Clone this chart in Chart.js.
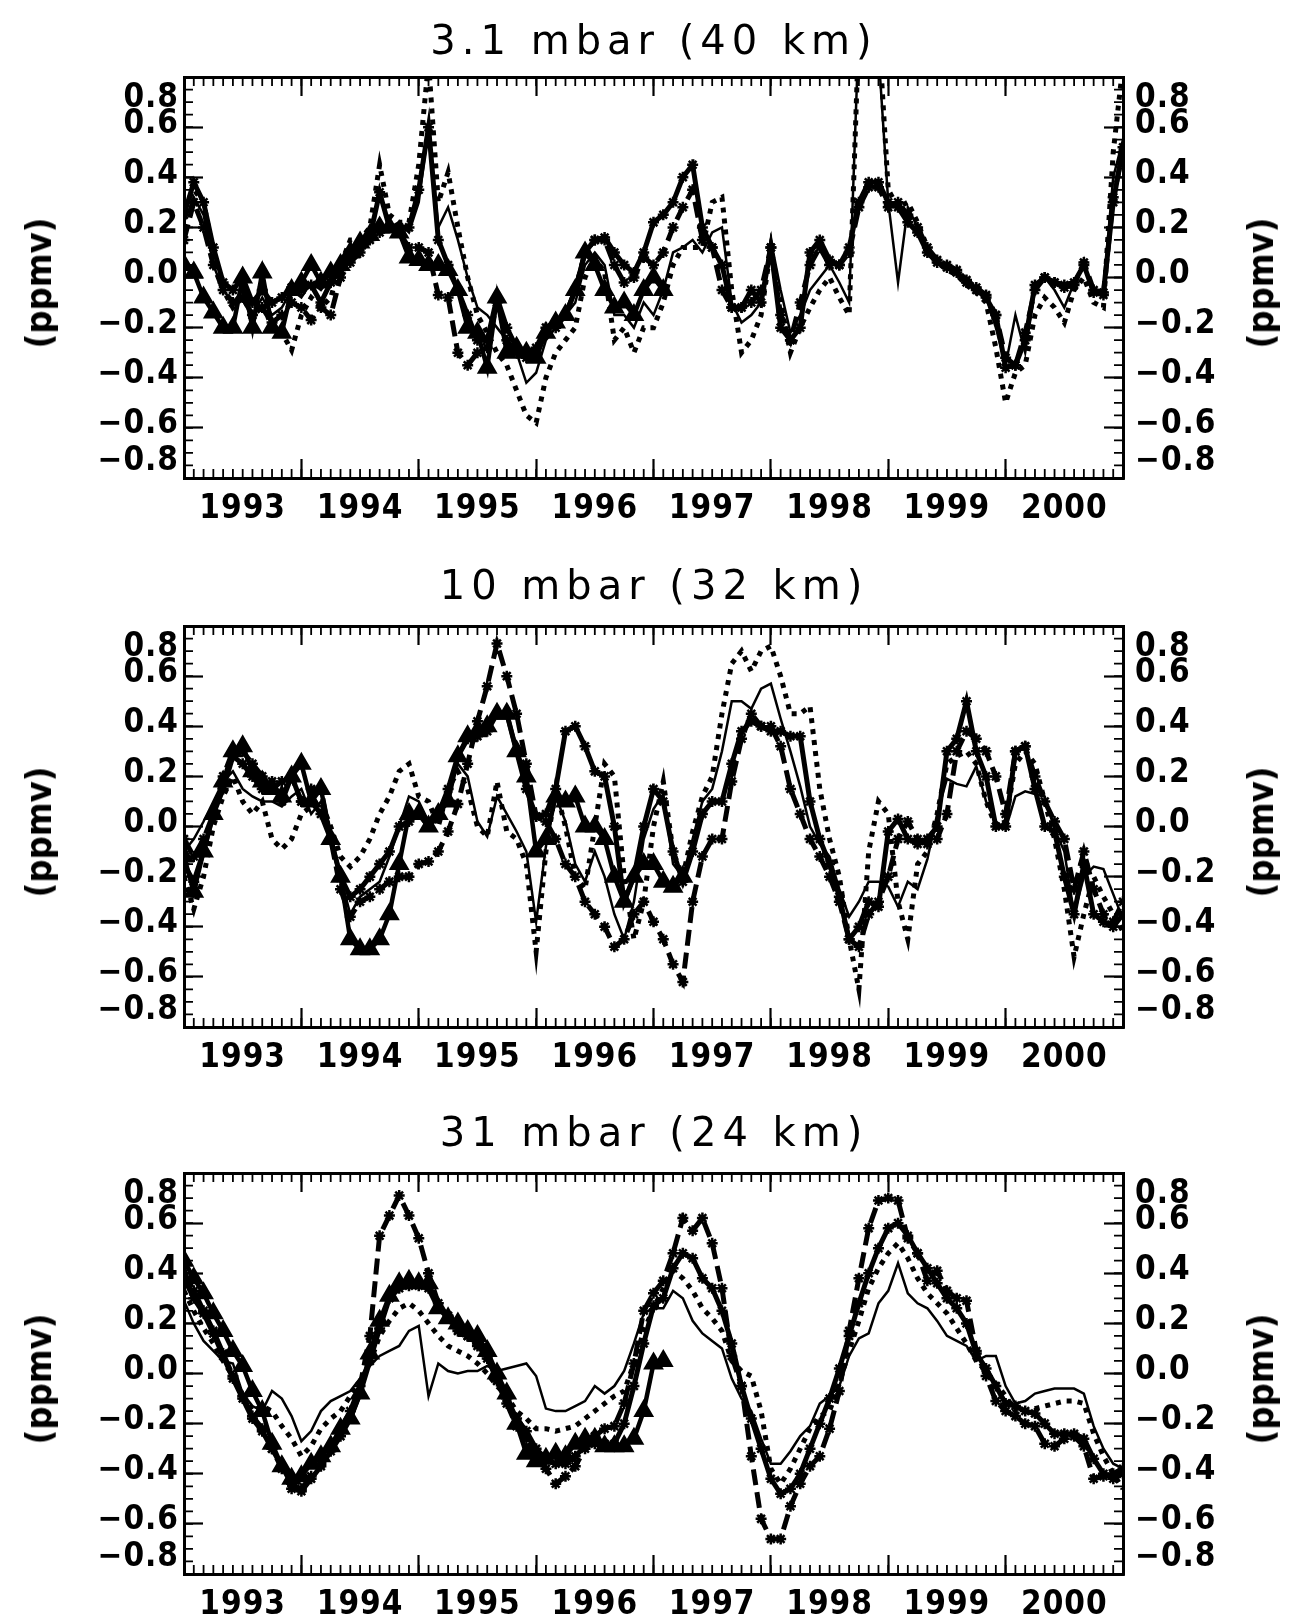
<!DOCTYPE html>
<html>
<head>
<meta charset="utf-8">
<title>Ozone anomalies</title>
<script src="https://cdn.jsdelivr.net/npm/chart.js@4.4.0/dist/chart.umd.min.js"></script>
<style>
  html, body { margin: 0; padding: 0; background: #fff; overflow: hidden; }
  #page { position: relative; width: 1289px; height: 1616px; }
  canvas { position: absolute; left: 0; }
  .lbl { position: absolute; color: #000; white-space: nowrap; }
  .title { font-family: 'DejaVu Sans', sans-serif; font-size: 40px; line-height: 40px; letter-spacing: 6px; padding-left: 6px; transform: translateX(-50%); }
  .unit { font-family: 'DejaVu Sans Condensed', 'DejaVu Sans', sans-serif; font-size: 36px; line-height: 36px; font-weight: bold; transform: translate(-50%, -50%) rotate(-90deg); }
</style>
</head>
<body>
<div id="page"></div>
<script>
// sample times: one per month, Jan 1993 .. Jan 2001
const months = Array.from({length: 97}, (_, k) => 1993 + k / 12);

const yearTicks = [1993, 1994, 1995, 1996, 1997, 1998, 1999, 2000, 2001];
const yearLabels = ['1993', '1994', '1995', '1996', '1997', '1998', '1999', '2000', ''];
const ppmvTicks = [-0.8, -0.6, -0.4, -0.2, 0, 0.2, 0.4, 0.6, 0.8];
const ppmvLabels = ['−0.8', '−0.6', '−0.4', '−0.2', '0.0', '0.2', '0.4', '0.6', '0.8'];
const panelTitles = ['3.1 mbar (40 km)', '10 mbar (32 km)', '31 mbar (24 km)'];
const unitLabel = '(ppmv)';

// ---- 3.1 mbar ----
const p1Thin = [0.22, 0.32, 0.25, 0.05, -0.05, -0.1, -0.05, -0.15, -0.08, -0.15, -0.12, -0.05, -0.08,
  -0.02, -0.05, 0.0, 0.05, 0.1, 0.14, 0.18, 0.33, 0.2, 0.22, 0.18, 0.3,
  0.6, 0.2, 0.28, 0.15, 0.0, -0.12, -0.15, -0.2, -0.25, -0.3, -0.42, -0.38,
  -0.25, -0.2, -0.15, -0.1, 0.05, 0.1, 0.05, -0.15, -0.15, -0.2, -0.1, -0.15,
  -0.05, 0.1, 0.12, 0.15, 0.1, 0.18, 0.2, -0.1, -0.18, -0.15, -0.1, 0.15,
  -0.05, -0.22, -0.15, -0.05, 0.0, 0.05, -0.02, -0.1, 1.0, 1.05, 0.9, 0.3,
  -0.02, 0.28, 0.2, 0.12, 0.06, 0.04, 0.02, -0.02, -0.05, -0.08, -0.2, -0.35,
  -0.15, -0.3, -0.05, 0.0, -0.05, -0.12, -0.02, 0.05, -0.05, -0.05, 0.4, 0.55];
const p1Dotted = [0.28, 0.35, 0.3, 0.1, -0.05, -0.12, -0.08, -0.15, -0.1, -0.2, -0.22, -0.29, -0.15,
  -0.08, -0.12, -0.08, 0.05, 0.15, 0.15, 0.2, 0.45, 0.25, 0.22, 0.22, 0.45,
  0.86, 0.3, 0.42, 0.2, 0.0, -0.15, -0.22, -0.3, -0.35, -0.45, -0.55, -0.58,
  -0.4, -0.3, -0.25, -0.2, 0.0, 0.08, 0.02, -0.25, -0.2, -0.3, -0.2, -0.2,
  -0.1, 0.05, 0.12, 0.12, 0.12, 0.3, 0.32, -0.05, -0.3, -0.25, -0.15, 0.12,
  -0.1, -0.3, -0.2, -0.12, -0.05, 0.0, -0.08, -0.15, 1.0, 1.1, 1.0, 0.35,
  0.28, 0.3, 0.22, 0.12, 0.06, 0.03, 0.01, -0.03, -0.06, -0.1, -0.28, -0.5,
  -0.38, -0.35, -0.15, -0.08, -0.12, -0.18, -0.05, 0.0, -0.1, -0.12, 0.5, 0.85];
const p1Star = [0.25, 0.38, 0.3, 0.12, -0.02, -0.05, 0.0, -0.1, -0.05, -0.1, -0.08, -0.04, -0.05,
  -0.03, -0.1, -0.02, 0.03, 0.08, 0.12, 0.16, 0.34, 0.2, 0.2, 0.2, 0.35,
  0.6, 0.15, 0.05, -0.05, -0.15, -0.25, -0.25, -0.08, -0.2, -0.28, -0.3, -0.28,
  -0.2, -0.18, -0.15, -0.05, 0.1, 0.15, 0.16, 0.1, 0.05, 0.02, 0.1, 0.22,
  0.25, 0.3, 0.4, 0.45, 0.2, 0.12, 0.05, -0.12, -0.12, -0.05, -0.1, 0.12,
  -0.2, -0.25, -0.2, 0.1, 0.15, 0.07, 0.05, 0.12, 0.3, 0.38, 0.38, 0.3,
  0.28, 0.22, 0.18, 0.1, 0.06, 0.04, 0.02, -0.02, -0.05, -0.08, -0.15, -0.36,
  -0.35, -0.25, -0.03, 0.0, -0.02, -0.03, -0.02, 0.05, -0.06, -0.06, 0.3, 0.52];
const p1StarDash = [0.15, 0.3, 0.2, 0.05, -0.05, -0.1, -0.08, -0.15, -0.12, -0.18, -0.15, -0.1, -0.12,
  -0.17, -0.12, -0.15, 0.0, 0.06, 0.1, 0.15, 0.18, 0.2, 0.18, 0.12, 0.12,
  0.1, -0.07, -0.08, -0.3, -0.35, -0.3, -0.28, -0.1, -0.25, -0.3, -0.32, -0.3,
  -0.22, -0.2, -0.15, -0.05, 0.1, 0.15, 0.15, 0.05, -0.02, 0.0, 0.08, 0.05,
  0.1, 0.2, 0.28, 0.35, 0.15, 0.12, -0.05, -0.12, -0.12, -0.1, -0.05, 0.12,
  -0.15, -0.25, -0.1, 0.05, 0.12, 0.05, 0.05, 0.1, 0.28, 0.36, 0.36, 0.28,
  0.3, 0.25, 0.2, 0.12, 0.07, 0.05, 0.03, -0.01, -0.04, -0.07, -0.15, -0.32,
  -0.35, -0.22, -0.05, 0.0, -0.02, -0.04, -0.03, 0.06, -0.05, -0.07, 0.32, 0.5];
const p1Tri = [0.05, 0.02, -0.08, -0.14, -0.2, -0.2, 0.0, -0.2, 0.02, -0.2, -0.22, -0.05, -0.02,
  0.05, -0.02, 0.02, 0.05, 0.1, 0.14, 0.17, 0.2, 0.2, 0.18, 0.08, 0.07,
  0.05, 0.05, 0.03, -0.05, -0.2, -0.22, -0.36, -0.08, -0.3, -0.28, -0.3, -0.32,
  -0.22, -0.18, -0.15, -0.05, 0.1, 0.05, -0.05, -0.12, -0.1, -0.15, -0.05, 0.0,
  -0.05];

// ---- 10 mbar ----
const p2Thin = [-0.1, -0.05, 0.02, 0.1, 0.18, 0.22, 0.15, 0.12, 0.1, 0.1, 0.08, 0.12, 0.15,
  0.05, 0.1, -0.05, -0.2, -0.35, -0.28, -0.25, -0.22, -0.12, 0.0, 0.12, 0.1,
  0.02, 0.05, 0.15, 0.25, 0.2, 0.02, -0.04, 0.12, 0.05, -0.02, -0.1, -0.38,
  -0.08, 0.12, 0.02, -0.15, -0.22, -0.1, -0.2, -0.35, -0.45, -0.3, -0.05, 0.07,
  0.13, -0.15, -0.2, -0.05, 0.1, 0.15, 0.3, 0.5, 0.5, 0.47, 0.55, 0.57,
  0.43, 0.3, 0.16, 0.0, -0.07, -0.12, -0.25, -0.36, -0.3, -0.22, -0.22, -0.24,
  -0.32, -0.22, -0.25, -0.13, 0.05, 0.19, 0.17, 0.16, 0.24, 0.1, 0.02, -0.01,
  0.12, 0.14, 0.13, 0.12, -0.01, -0.1, -0.35, -0.2, -0.16, -0.17, -0.27, -0.37];
const p2Dotted = [-0.2, -0.33, -0.2, 0.0, 0.12, 0.2, 0.1, 0.05, 0.1, -0.05, -0.09, -0.05, 0.05,
  0.08, 0.1, 0.0, -0.12, -0.16, -0.12, -0.05, 0.05, 0.12, 0.22, 0.25, 0.12,
  0.1, 0.0, 0.15, 0.22, 0.15, 0.0, -0.04, 0.18, -0.02, -0.05, -0.15, -0.5,
  -0.1, 0.15, 0.0, -0.2, -0.25, 0.0, 0.25, 0.2, -0.2, -0.45, -0.3, 0.0,
  0.18, -0.1, -0.2, -0.02, 0.12, 0.2, 0.45, 0.65, 0.7, 0.62, 0.7, 0.72,
  0.6, 0.45, 0.45, 0.48, 0.15, -0.05, -0.2, -0.45, -0.65, -0.1, 0.1, 0.05,
  -0.3, -0.45, -0.15, -0.1, 0.05, 0.25, 0.28, 0.3, 0.25, 0.1, 0.0, 0.02,
  0.25, 0.3, 0.25, 0.1, -0.05, -0.25, -0.52, -0.35, -0.2, -0.28, -0.35, -0.42];
const p2Star = [-0.15, -0.22, -0.1, 0.05, 0.15, 0.28, 0.25, 0.2, 0.15, 0.18, 0.1, 0.2, 0.1,
  0.1, 0.05, -0.05, -0.2, -0.28, -0.25, -0.2, -0.15, -0.1, 0.0, 0.02, 0.05,
  0.0, 0.05, 0.15, 0.28, 0.35, 0.36, 0.38, 0.45, 0.45, 0.3, 0.15, 0.04,
  0.05, 0.15, 0.38, 0.4, 0.32, 0.22, 0.2, 0.0, -0.3, -0.2, 0.0, 0.15,
  0.1, -0.1, -0.22, -0.1, 0.05, 0.1, 0.1, 0.25, 0.38, 0.42, 0.4, 0.38,
  0.38, 0.36, 0.36, 0.1, -0.05, -0.15, -0.28, -0.45, -0.4, -0.3, -0.32, -0.02,
  0.03, -0.05, -0.07, -0.05, 0.0, 0.3, 0.35, 0.5, 0.3, 0.2, 0.0, 0.0,
  0.3, 0.32, 0.15, 0.0, -0.02, -0.2, -0.35, -0.15, -0.35, -0.38, -0.4, -0.35];
const p2StarDash = [-0.05, -0.12, -0.05, 0.05, 0.2, 0.3, 0.3, 0.25, 0.2, 0.15, 0.18, 0.2, 0.1,
  0.15, 0.15, -0.05, -0.25, -0.36, -0.3, -0.28, -0.25, -0.22, -0.2, -0.2, -0.15,
  -0.14, -0.1, -0.02, 0.09, 0.25, 0.42, 0.56, 0.73, 0.6, 0.45, 0.25, 0.04,
  0.02, -0.05, -0.15, -0.2, -0.3, -0.35, -0.4, -0.48, -0.45, -0.35, -0.3, -0.38,
  -0.45, -0.55, -0.62, -0.3, -0.12, -0.05, -0.05, 0.18, 0.35, 0.45, 0.4, 0.4,
  0.32, 0.15, 0.05, -0.05, -0.12, -0.2, -0.3, -0.45, -0.48, -0.35, -0.3, -0.2,
  -0.05, 0.02, -0.05, -0.07, -0.05, 0.05, 0.3, 0.38, 0.35, 0.3, 0.2, 0.05,
  0.3, 0.32, 0.2, 0.1, 0.02, -0.05, -0.25, -0.1, -0.25, -0.35, -0.38, -0.3];
const p2Tri = [-0.12, -0.26, -0.1, 0.05, 0.18, 0.3, 0.32, 0.22, 0.18, 0.15, 0.12, 0.2, 0.25,
  0.1, 0.15, -0.05, -0.2, -0.45, -0.49, -0.49, -0.45, -0.35, -0.15, 0.05, 0.05,
  0.0, 0.05, 0.1, 0.28, 0.36, 0.38, 0.4, 0.45, 0.45, 0.3, 0.2, -0.1,
  -0.05, 0.12, 0.1, 0.12, 0.0, 0.0, -0.05, -0.2, -0.3, -0.2, -0.15, -0.15,
  -0.22, -0.24, -0.2];

// ---- 31 mbar ----
const p3Thin = [0.29, 0.2, 0.13, 0.09, 0.05, 0.04, -0.08, -0.13, -0.15, -0.07, -0.1, -0.17, -0.27,
  -0.23, -0.15, -0.11, -0.09, -0.07, -0.02, 0.03, 0.07, 0.09, 0.11, 0.17, 0.19,
  -0.09, 0.04, 0.01, 0.0, 0.01, 0.01, 0.03, 0.01, 0.02, 0.03, 0.04, -0.01,
  -0.14, -0.15, -0.15, -0.13, -0.11, -0.05, -0.08, -0.05, 0.01, 0.12, 0.24, 0.26,
  0.26, 0.33, 0.3, 0.21, 0.16, 0.13, 0.1, -0.02, -0.1, -0.15, -0.26, -0.36,
  -0.36, -0.31, -0.25, -0.21, -0.12, -0.09, -0.05, 0.07, 0.14, 0.16, 0.28, 0.33,
  0.44, 0.32, 0.28, 0.26, 0.21, 0.15, 0.13, 0.11, 0.05, 0.07, 0.07, -0.05,
  -0.12, -0.11, -0.08, -0.07, -0.06, -0.06, -0.06, -0.08, -0.21, -0.3, -0.36, -0.38];
const p3Dotted = [0.33, 0.25, 0.18, 0.12, 0.05, -0.01, -0.09, -0.15, -0.13, -0.15, -0.21, -0.26, -0.33,
  -0.29, -0.22, -0.18, -0.15, -0.09, -0.03, 0.04, 0.15, 0.21, 0.26, 0.28, 0.25,
  0.2, 0.15, 0.11, 0.09, 0.07, 0.04, 0.0, -0.05, -0.09, -0.15, -0.18, -0.22,
  -0.22, -0.23, -0.22, -0.21, -0.18, -0.15, -0.12, -0.09, -0.07, 0.04, 0.17, 0.26,
  0.34, 0.41, 0.38, 0.33, 0.26, 0.22, 0.17, 0.05, 0.01, -0.01, -0.15, -0.38,
  -0.44, -0.38, -0.3, -0.22, -0.17, -0.15, -0.04, 0.09, 0.21, 0.34, 0.42, 0.48,
  0.52, 0.46, 0.38, 0.32, 0.28, 0.24, 0.18, 0.12, 0.05, 0.01, -0.04, -0.09,
  -0.15, -0.15, -0.14, -0.13, -0.12, -0.11, -0.11, -0.12, -0.24, -0.33, -0.4, -0.46];
const p3Star = [0.38, 0.3, 0.24, 0.16, 0.07, -0.02, -0.1, -0.18, -0.23, -0.3, -0.37, -0.44, -0.47,
  -0.42, -0.37, -0.31, -0.25, -0.18, -0.08, 0.05, 0.18, 0.3, 0.34, 0.35, 0.35,
  0.34, 0.26, 0.23, 0.18, 0.15, 0.12, 0.06, -0.02, -0.1, -0.18, -0.23, -0.3,
  -0.34, -0.36, -0.36, -0.33, -0.29, -0.28, -0.28, -0.28, -0.2, -0.05, 0.12, 0.27,
  0.3, 0.42, 0.48, 0.46, 0.38, 0.34, 0.25, 0.12, -0.05, -0.18, -0.3, -0.42,
  -0.48, -0.46, -0.4, -0.3, -0.2, -0.1, 0.02, 0.15, 0.28, 0.4, 0.5, 0.58,
  0.6, 0.55, 0.48, 0.42, 0.36, 0.3, 0.26, 0.2, 0.08, 0.02, -0.05, -0.12,
  -0.13, -0.15, -0.16, -0.2, -0.24, -0.24, -0.24, -0.26, -0.34, -0.4, -0.42, -0.4];
const p3StarDash = [0.4, 0.33, 0.25, 0.17, 0.08, -0.01, -0.09, -0.17, -0.22, -0.3, -0.38, -0.46, -0.46,
  -0.41, -0.36, -0.3, -0.22, -0.15, -0.05, 0.15, 0.55, 0.63, 0.71, 0.63, 0.54,
  0.4, 0.28, 0.22, 0.17, 0.15, 0.11, 0.07, -0.03, -0.12, -0.21, -0.26, -0.33,
  -0.38, -0.44, -0.41, -0.37, -0.3, -0.25, -0.22, -0.21, -0.12, 0.04, 0.25, 0.32,
  0.37, 0.48, 0.62, 0.57, 0.62, 0.52, 0.34, 0.07, -0.05, -0.33, -0.58, -0.66,
  -0.66, -0.53, -0.44, -0.37, -0.33, -0.22, -0.07, 0.17, 0.38, 0.58, 0.69, 0.7,
  0.69, 0.54, 0.48, 0.37, 0.41, 0.33, 0.3, 0.29, 0.09, -0.01, -0.11, -0.15,
  -0.17, -0.2, -0.21, -0.28, -0.29, -0.26, -0.25, -0.29, -0.42, -0.41, -0.4, -0.38];
const p3Tri = [0.45, 0.38, 0.32, 0.24, 0.17, 0.09, 0.03, -0.07, -0.15, -0.28, -0.37, -0.42, -0.41,
  -0.36, -0.33, -0.29, -0.22, -0.18, -0.08, 0.08, 0.21, 0.31, 0.36, 0.37, 0.36,
  0.36, 0.26, 0.22, 0.2, 0.17, 0.15, 0.09, 0.0, -0.08, -0.2, -0.32, -0.35,
  -0.34, -0.32, -0.33, -0.28, -0.26, -0.26, -0.29, -0.29, -0.29, -0.26, -0.15, 0.04,
  0.05];

const panelSeries = [
  [p1Thin, p1Dotted, p1Star, p1StarDash, p1Tri],
  [p2Thin, p2Dotted, p2Star, p2StarDash, p2Tri],
  [p3Thin, p3Dotted, p3Star, p3StarDash, p3Tri]
];

// page geometry (px)
const plotTops = [77, 626, 1173];
const titleTops = [20, 565, 1112];
const PLOT_H = 401, PAD_TOP = 20, X_AXIS_H = 50;
const LEFT_W = 184, RIGHT_W = 166, CANVAS_W = 1289;
const HALF_YEAR_PX = (CANVAS_W - LEFT_W - RIGHT_W) / 16;

// line looks, same order as the series in each panel
const seriesStyles = [
  {borderWidth: 2.5, pointRadius: 0},                                                          // thin solid
  {borderWidth: 5, borderDash: [5, 6], pointRadius: 0},                                        // dotted
  {borderWidth: 5, pointStyle: 'star', pointRadius: 5.5, pointBorderWidth: 2.5},               // solid + asterisks
  {borderWidth: 5, borderDash: [16, 7], pointStyle: 'star', pointRadius: 5.5, pointBorderWidth: 2.5}, // dashed + asterisks
  {borderWidth: 4.5, pointStyle: 'triangle', pointRadius: 7.5, pointBackgroundColor: '#000'}    // triangles
];

Chart.defaults.font.family = "'DejaVu Sans Condensed', 'DejaVu Sans', sans-serif";
Chart.defaults.font.size = 33;
Chart.defaults.font.weight = 'bold';
Chart.defaults.color = '#000';

// short inward ticks: months on x, 0.05 ppmv on y
const minorMonths = months;
const minorPpmv = Array.from({length: 33}, (_, k) => -0.8 + k * 0.05);
const minorTicks = {
  id: 'minorTicks',
  beforeDatasetsDraw(chart) {
    const {ctx, chartArea: {left, right, top, bottom}, scales: {x, y}} = chart;
    ctx.save();
    ctx.strokeStyle = '#000';
    ctx.lineWidth = 1.8;
    ctx.beginPath();
    minorMonths.forEach(t => {
      const px = x.getPixelForValue(t);
      ctx.moveTo(px, bottom); ctx.lineTo(px, bottom - 9);
      ctx.moveTo(px, top); ctx.lineTo(px, top + 9);
    });
    minorPpmv.forEach(v => {
      const py = y.getPixelForValue(v);
      ctx.moveTo(left, py); ctx.lineTo(left + 9, py);
      ctx.moveTo(right, py); ctx.lineTo(right - 9, py);
    });
    ctx.stroke();
    ctx.restore();
  }
};

// the original lettering is wide, spread the tick labels a little
const wideText = {
  id: 'wideText',
  beforeDraw(chart) { chart.ctx.letterSpacing = '1px'; }
};

const tickGrid = {display: true, drawOnChartArea: false, drawTicks: true, tickLength: -19, tickWidth: 2.2, tickColor: '#000'};
const frameBorder = {display: true, color: '#000', width: 3};

function yearAxis(position, showLabels) {
  return {
    type: 'linear', position: position, min: 1993, max: 2001,
    afterBuildTicks: s => { s.ticks = yearTicks.map(v => ({value: v})); },
    afterFit: s => { s.height = showLabels ? X_AXIS_H : 0; s.paddingLeft = 0; s.paddingRight = 0; },
    grid: tickGrid,
    border: frameBorder,
    ticks: {
      display: showLabels, autoSkip: false, maxRotation: 0, minRotation: 0,
      padding: 31, labelOffset: HALF_YEAR_PX,
      callback: (v, i) => yearLabels[i]
    }
  };
}

function ppmvAxis(position, width, padding) {
  return {
    type: 'linear', position: position, min: -0.8, max: 0.8,
    afterBuildTicks: s => { s.ticks = ppmvTicks.map(v => ({value: v})); },
    afterFit: s => { s.width = width; s.paddingTop = 0; s.paddingBottom = 0; },
    grid: tickGrid,
    border: frameBorder,
    ticks: {
      autoSkip: false, padding: padding, labelOffset: -3,
      // end labels sit inside the frame, as in the original
      font: c => ({size: 33, weight: 'bold', lineHeight: c.index === 8 ? 1.45 : (c.index === 0 ? 0.8 : 1.2)}),
      callback: (v, i) => i === 8 ? ['', ppmvLabels[i]] : (i === 0 ? [ppmvLabels[i], ''] : ppmvLabels[i])
    }
  };
}

const page = document.getElementById('page');

function addLabel(cls, text, left, top) {
  const d = document.createElement('div');
  d.className = 'lbl ' + cls;
  d.textContent = text;
  d.style.left = left + 'px';
  d.style.top = top + 'px';
  page.appendChild(d);
}

panelSeries.forEach((series, i) => {
  const cv = document.createElement('canvas');
  cv.width = CANVAS_W;
  cv.height = PAD_TOP + PLOT_H + X_AXIS_H;
  cv.style.top = (plotTops[i] - PAD_TOP) + 'px';
  page.appendChild(cv);

  new Chart(cv, {
    type: 'line',
    data: {
      labels: months,
      datasets: series.map((vals, j) => Object.assign({
        data: vals,
        borderColor: '#000',
        pointBorderColor: '#000',
        pointBackgroundColor: '#000',
        fill: false,
        tension: 0
      }, seriesStyles[j]))
    },
    options: {
      responsive: false,
      animation: false,
      devicePixelRatio: 1,
      events: [],
      layout: {padding: {top: PAD_TOP, left: 0, right: 0, bottom: 0}},
      plugins: {legend: {display: false}, tooltip: {enabled: false}},
      scales: {
        x: yearAxis('bottom', true),
        xTop: yearAxis('top', false),
        y: ppmvAxis('left', LEFT_W, 24),
        yRight: ppmvAxis('right', RIGHT_W, 31)
      }
    },
    plugins: [minorTicks, wideText]
  });

  addLabel('title', panelTitles[i], 651, titleTops[i]);
  addLabel('unit', unitLabel, 39, plotTops[i] + PLOT_H / 2 + 5);
  addLabel('unit', unitLabel, 1261, plotTops[i] + PLOT_H / 2 + 5);
});
</script>
</body>
</html>
